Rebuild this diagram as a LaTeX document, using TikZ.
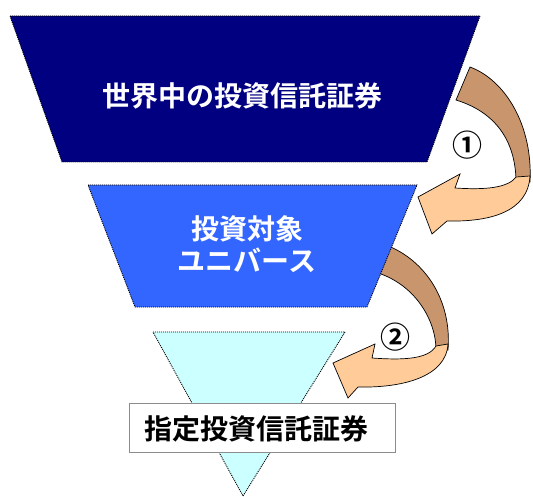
\documentclass[tikz,border=0pt]{standalone}
\usepackage{fontspec}
\newfontfamily\cjk{Noto Sans CJK JP}[BoldFont={Noto Sans CJK JP Bold}]
\begin{document}
\begin{tikzpicture}[x=1pt,y=-1pt,
  shapeedge/.style={draw=black,line width=0.9pt,dash pattern=on 1pt off 1pt},
  backband/.style={fill=arrowbrown,draw=black,line width=0.7pt},
  frontband/.style={fill=arroworange,draw=black,line width=0.7pt},
  bigtext/.style={font=\cjk\bfseries\fontsize{28}{32}\selectfont,align=center,inner sep=0pt},
  numtext/.style={font=\cjk\bfseries\fontsize{30}{30}\selectfont,inner sep=0pt}]
\definecolor{navy}{HTML}{000080}
\definecolor{midblue}{HTML}{3366FF}
\definecolor{paleblue}{HTML}{CCFFFF}
\definecolor{arrowbrown}{HTML}{C8956C}
\definecolor{arroworange}{HTML}{FFCC99}
\useasboundingbox (0,0) rectangle (533,497);
% arrow 1
\path[backband] (470,67) .. controls (505,80) and (533,125) .. (530,182)
  -- (516,180) .. controls (515,140) and (495,112) .. (456,100) -- cycle;
\path[frontband] (530,176) .. controls (528,212) and (490,222) .. (447,221)
  -- (432,234) -- (418,197) -- (460,174) -- (455,188)
  .. controls (485,190) and (508,188) .. (516,177) -- cycle;
% arrow 2
\path[backband] (386,245) .. controls (425,260) and (452,300) .. (448,350)
  -- (436,350) .. controls (436,320) and (415,285) .. (378,273) -- cycle;
\path[frontband] (448,344) .. controls (446,378) and (400,388) .. (358,387)
  -- (348,398) -- (333,363) -- (375,344) -- (372,358)
  .. controls (400,360) and (428,360) .. (436,346) -- cycle;
% shapes
\path[shapeedge,fill=navy] (10,16) -- (480,16) -- (427,162) -- (62,162) -- cycle;
\path[shapeedge,fill=midblue] (88,185) -- (417,185) -- (367,307) -- (135,307) -- cycle;
\path[shapeedge,fill=paleblue] (153,332) -- (345,332) -- (243,496) -- cycle;
% texts
\node[bigtext,text=white] (world) at (242,96) {世界中の投資信託証券};
\node[bigtext,text=white] (universe) at (247,244) {投資対象\\ユニバース};
\node[draw=black!45,fill=white,line width=0.6pt,minimum width=266pt,minimum height=49pt,inner sep=0pt] (label) at (262,427.5) {};
\node[bigtext,text=black] (designated) at (256,429) {指定投資信託証券};
\node[numtext] (n1) at (467,145) {①};
\node[numtext] (n2) at (395,337) {②};
\end{tikzpicture}
\end{document}
